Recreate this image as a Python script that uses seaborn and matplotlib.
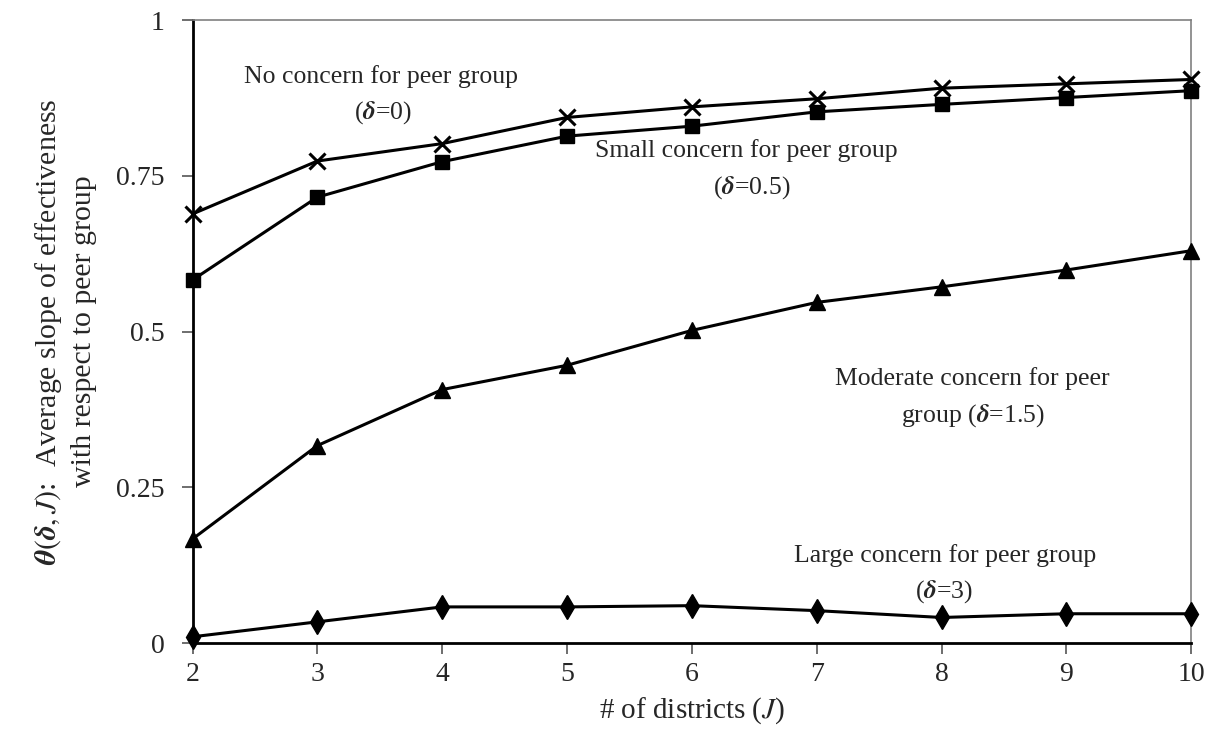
import matplotlib
matplotlib.use("Agg")
import matplotlib.pyplot as plt
import seaborn as sns
import pandas as pd

# ---- data ----
districts = [2, 3, 4, 5, 6, 7, 8, 9, 10]
delta_0 = [0.689, 0.774, 0.802, 0.844, 0.861, 0.874, 0.891, 0.898, 0.905]
delta_05 = [0.583, 0.716, 0.773, 0.814, 0.830, 0.853, 0.865, 0.876, 0.887]
delta_15 = [0.167, 0.317, 0.407, 0.446, 0.502, 0.547, 0.572, 0.599, 0.630]
delta_3 = [0.010, 0.034, 0.058, 0.058, 0.060, 0.052, 0.041, 0.047, 0.047]
y_ticks = [0, 0.25, 0.5, 0.75, 1]
y_tick_labels = ["0", "0.25", "0.5", "0.75", "1"]

sns.set_theme(style="white")
plt.rcParams['font.family'] = ['Liberation Serif', 'DejaVu Serif']
plt.rcParams['mathtext.fontset'] = 'stix'

fig = plt.figure(figsize=(12.13, 7.47), dpi=100)
ax = fig.add_axes([0.1587, 0.1392, 0.982 - 0.1587, 0.9728 - 0.1392])

series = [
    (delta_0, 'x', 12, 2.2),
    (delta_05, 's', 10, 1),
    (delta_15, '^', 11, 1),
    (delta_3, 'd', 12, 1),
]
for vals, mk, ms, mew in series:
    df = pd.DataFrame({"J": districts, "theta": vals})
    sns.lineplot(data=df, x="J", y="theta", ax=ax, color="black", lw=2.2,
                 marker=mk, markersize=ms, markeredgewidth=mew,
                 markeredgecolor="black", markerfacecolor="black",
                 clip_on=False, zorder=3)

ax.set_xlim(2, 10)
ax.set_ylim(0, 1)
ax.set_xticks(districts)
ax.set_xticklabels([str(d) for d in districts], fontsize=20)
ax.set_yticks(y_ticks)
ax.set_yticklabels(y_tick_labels, fontsize=20)

ax.tick_params(axis='x', direction='out', length=8, width=1.2,
               color='#555555', pad=6, bottom=True)
ax.tick_params(axis='y', direction='out', length=8, width=1.2,
               color='#555555', pad=12, left=True)

for side in ['left', 'bottom']:
    ax.spines[side].set_color('black')
    ax.spines[side].set_linewidth(2)
for side in ['top', 'right']:
    ax.spines[side].set_color('#808080')
    ax.spines[side].set_linewidth(1.2)

ax.set_xlabel("# of districts ($J$)", fontsize=21, labelpad=6)
ax.set_ylabel(r"$\boldsymbol{\theta}(\boldsymbol{\delta}, J)$:  Average slope of effectiveness" + "\nwith respect to peer group",
              fontsize=21.5, labelpad=14, linespacing=1.35)

fs = 18.5
ax.text(3.51, 0.909, "No concern for peer group", ha='center', va='center', fontsize=fs)
ax.text(3.53, 0.852, r"($\boldsymbol{\delta}$=0)", ha='center', va='center', fontsize=fs)
ax.text(6.44, 0.791, "Small concern for peer group", ha='center', va='center', fontsize=fs)
ax.text(6.48, 0.732, r"($\boldsymbol{\delta}$=0.5)", ha='center', va='center', fontsize=fs)
ax.text(8.25, 0.424, "Moderate concern for peer", ha='center', va='center', fontsize=fs)
ax.text(8.25, 0.366, r"group ($\boldsymbol{\delta}$=1.5)", ha='center', va='center', fontsize=fs)
ax.text(8.03, 0.140, "Large concern for peer group", ha='center', va='center', fontsize=fs)
ax.text(8.02, 0.082, r"($\boldsymbol{\delta}$=3)", ha='center', va='center', fontsize=fs)

fig.savefig("out.png", dpi=100)
